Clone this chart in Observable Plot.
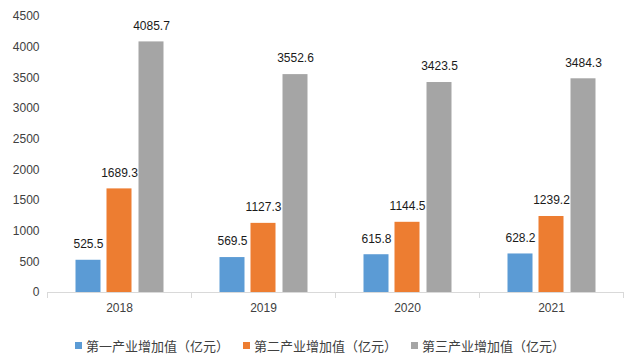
<!DOCTYPE html>
<html>
<head>
<meta charset="utf-8">
<script src="https://cdn.jsdelivr.net/npm/d3@7"></script>
<script src="https://cdn.jsdelivr.net/npm/@observablehq/plot@0.6"></script>
<style>
  body { margin: 0; background: #fff; width: 640px; height: 363px; overflow: hidden; }
  #legend { display: flex; justify-content: center; align-items: center; height: 20px; margin-top: 10px;
    font-family: "Noto Sans CJK SC", sans-serif; font-size: 13px; color: #404040; }
  .item { display: flex; align-items: center; margin: 0 7px; }
  .sw { width: 7px; height: 7px; margin-right: 4px; }
</style>
</head>
<body>
<div id="chart"></div>
<div id="legend"></div>
<script>
const years = [2018, 2019, 2020, 2021];
const seriesNames = ["第一产业增加值（亿元）", "第二产业增加值（亿元）", "第三产业增加值（亿元）"];
const primary = [525.5, 569.5, 615.8, 628.2];
const secondary = [1689.3, 1127.3, 1144.5, 1239.2];
const tertiary = [4085.7, 3552.6, 3423.5, 3484.3];
const yTicks = [0, 500, 1000, 1500, 2000, 2500, 3000, 3500, 4000, 4500];
const colors = ["#5B9BD5", "#ED7D31", "#A5A5A5"];

const seriesValues = [primary, secondary, tertiary];
const data = seriesValues.flatMap((vals, s) => vals.map((v, i) => ({year: years[i], series: seriesNames[s], value: v})));

// bar placement within each year band (px): band width 144, bar width 25
const barOffsets = [-31, 0, 32];
const bandW = 144, barW = 25;

const marks = [];
seriesNames.forEach((name, s) => {
  const rows = data.filter(d => d.series === name);
  const off = barOffsets[s];
  marks.push(Plot.rectY(rows, {
    x1: d => d.year - 0.5, x2: d => d.year + 0.5, y: "value", fill: colors[s],
    insetLeft: bandW / 2 + off - barW / 2, insetRight: bandW / 2 - off - barW / 2
  }));
  marks.push(Plot.text(rows, {
    x: "year", y: "value", dx: off, dy: -16, text: d => d.value.toFixed(1),
    fontSize: 12, fill: "#1a1a1a"
  }));
});

const boundaries = years.map(y => y - 0.5).concat([years[years.length - 1] + 0.5]);

const chart = Plot.plot({
  width: 640,
  height: 325,
  marginLeft: 47,
  marginRight: 17,
  marginTop: 16,
  marginBottom: 33,
  style: { fontFamily: "'Liberation Sans', Arial, sans-serif", fontSize: "12px", color: "#404040", background: "#fff" },
  x: { type: "linear", domain: [boundaries[0], boundaries[boundaries.length - 1]] },
  y: { domain: [0, 4500] },
  marks: [
    Plot.axisY({ ticks: yTicks, tickSize: 0, tickPadding: 8, tickFormat: d => String(d), fontSize: 12, fill: "#404040", label: null }),
    Plot.axisX({ ticks: years, tickSize: 0, tickPadding: 11, tickFormat: d => String(d), fontSize: 12, fill: "#404040", label: null }),
    Plot.axisX({ ticks: boundaries, tickSize: 6, tickFormat: () => "", stroke: "#d9d9d9", strokeOpacity: 1, label: null }),
    ...marks,
    Plot.ruleY([0], { stroke: "#d9d9d9" })
  ]
});
document.getElementById("chart").appendChild(chart);

const legend = document.getElementById("legend");
seriesNames.forEach((name, s) => {
  const item = document.createElement("div");
  item.className = "item";
  const sw = document.createElement("span");
  sw.className = "sw";
  sw.style.background = colors[s];
  const t = document.createElement("span");
  t.textContent = name;
  item.appendChild(sw);
  item.appendChild(t);
  legend.appendChild(item);
});
</script>
</body>
</html>
